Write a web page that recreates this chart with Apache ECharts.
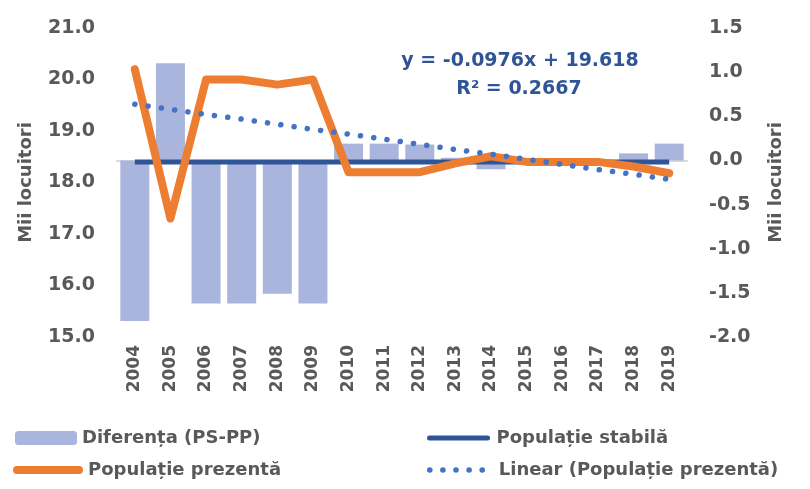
<!DOCTYPE html>
<html>
<head>
<meta charset="utf-8">
<script src="https://cdn.jsdelivr.net/npm/echarts@6/dist/echarts.min.js"></script>
<style>
    html, body { margin: 0; padding: 0; background: #fff; }
    #population_chart { width: 810px; height: 489px; }
</style>
</head>
<body>
<div id="population_chart"></div>
<script>

// Chart data
// ------------------------------

var years = ['2004', '2005', '2006', '2007', '2008', '2009', '2010', '2011',
             '2012', '2013', '2014', '2015', '2016', '2017', '2018', '2019'];

// Diferența (PS-PP), right axis
var diferenta = [-1.82, 1.10, -1.62, -1.62, -1.51, -1.62, 0.19, 0.19,
                 0.18, 0.03, -0.10, 0.00, 0.00, 0.00, 0.08, 0.19];

// Populație stabilă, left axis
var populatieStabila = [18.4, 18.4, 18.4, 18.4, 18.4, 18.4, 18.4, 18.4,
                        18.4, 18.4, 18.4, 18.4, 18.4, 18.4, 18.4, 18.4];

// Populație prezentă, left axis
var populatiePrezenta = [20.2, 17.3, 20.0, 20.0, 19.9, 20.0, 18.2, 18.2,
                         18.2, 18.37, 18.51, 18.4, 18.4, 18.4, 18.31, 18.18];

// Linear (Populație prezentă)
var linearPrezenta = [19.52, 19.42, 19.32, 19.23, 19.13, 19.03, 18.94, 18.84,
                      18.74, 18.64, 18.55, 18.45, 18.35, 18.25, 18.16, 18.06];

// Axis ticks [min, max, interval]
var leftTicks = [15, 21, 1];
var rightTicks = [-2, 1.5, 0.5];

var trendLabel = ['y = -0.0976x + 19.618', 'R² = 0.2667'];


// Setup module
// ------------------------------

var PopulationChart = function() {

    var _populationChart = function() {
        if (typeof echarts == 'undefined') {
            console.warn('Warning - echarts.min.js is not loaded.');
            return;
        }

        var chart_element = document.getElementById('population_chart');
        if (!chart_element) return;

        var chart = echarts.init(chart_element);

        var font = 'DejaVu Sans';
        var grey = '#595959';

        var labelStyle = {
            color: grey,
            fontFamily: font,
            fontWeight: 'bold',
            fontSize: 18
        };

        // Legend text with a small gap after line icons
        var lineLegendText = {
            color: grey,
            fontFamily: font,
            fontWeight: 'bold',
            fontSize: 18,
            padding: [0, 0, 0, 4]
        };

        // Legend builder: one legend per item, placed by hand
        var legendItem = function(name, left, top, w, h, extra) {
            var item = {
                data: [name],
                left: left,
                top: top,
                padding: 0,
                itemWidth: w,
                itemHeight: h,
                selectedMode: false,
                textStyle: labelStyle
            };
            for (var k in extra) item[k] = extra[k];
            return item;
        };

        var axisLabel = {
            margin: 22,
            color: grey,
            fontFamily: font,
            fontWeight: 'bold',
            fontSize: 19,
            formatter: function(v) { return v.toFixed(1); }
        };

        chart.setOption({

            animation: false,

            textStyle: {
                fontFamily: font
            },

            grid: {
                left: 117,
                right: 123,
                top: 28,
                bottom: 152,
                containLabel: false
            },

            legend: [
                legendItem('Diferența (PS-PP)', 15, 429, 62, 14, {}),
                legendItem('Populație prezentă', 13, 461, 62, 14, {
                    textStyle: lineLegendText,
                    itemStyle: { opacity: 0 },
                    lineStyle: { width: 8, color: '#ED7D31', cap: 'round' }
                }),
                legendItem('Populație stabilă', 427, 429, 58, 14, {
                    textStyle: lineLegendText,
                    itemStyle: { opacity: 0 },
                    lineStyle: { width: 5, color: '#2F5597', cap: 'round' }
                }),
                legendItem('Linear (Populație prezentă)', 427, 461, 60, 14, {
                    textStyle: lineLegendText,
                    itemStyle: { opacity: 0 },
                    lineStyle: { width: 5.5, color: '#4472C4', type: [0.1, 13], cap: 'round' }
                })
            ],

            graphic: [
                {
                    type: 'text',
                    x: 520,
                    y: 61,
                    style: {
                        text: trendLabel[0],
                        align: 'center',
                        verticalAlign: 'middle',
                        fill: '#2F5597',
                        font: 'bold 19px "DejaVu Sans"'
                    }
                },
                {
                    type: 'text',
                    x: 519,
                    y: 89,
                    style: {
                        text: trendLabel[1],
                        align: 'center',
                        verticalAlign: 'middle',
                        fill: '#2F5597',
                        font: 'bold 19px "DejaVu Sans"'
                    }
                }
            ],

            xAxis: [{
                type: 'category',
                data: years,
                axisTick: { show: false },
                axisLine: {
                    lineStyle: { color: '#D9D9D9', width: 2 }
                },
                axisLabel: {
                    rotate: 90,
                    margin: 8,
                    color: grey,
                    fontFamily: font,
                    fontWeight: 'bold',
                    fontSize: 17
                }
            }],

            yAxis: [
                {
                    type: 'value',
                    min: leftTicks[0],
                    max: leftTicks[1],
                    interval: leftTicks[2],
                    name: 'Mii locuitori',
                    nameLocation: 'middle',
                    nameGap: 82,
                    nameRotate: 90,
                    nameTextStyle: labelStyle,
                    axisLine: { show: false },
                    axisTick: { show: false },
                    splitLine: { show: false },
                    axisLabel: axisLabel
                },
                {
                    type: 'value',
                    min: rightTicks[0],
                    max: rightTicks[1],
                    interval: rightTicks[2],
                    name: 'Mii locuitori',
                    nameLocation: 'middle',
                    nameGap: 80,
                    nameRotate: 90,
                    nameTextStyle: labelStyle,
                    axisLine: { show: false },
                    axisTick: { show: false },
                    splitLine: { show: false },
                    axisLabel: axisLabel
                }
            ],

            series: [
                {
                    name: 'Diferența (PS-PP)',
                    type: 'bar',
                    yAxisIndex: 1,
                    barWidth: 29,
                    itemStyle: { color: '#A9B5DC' },
                    data: diferenta
                },
                {
                    name: 'Populație stabilă',
                    type: 'line',
                    yAxisIndex: 0,
                    symbol: 'none',
                    lineStyle: { width: 5, color: '#2F5597' },
                    itemStyle: { color: '#2F5597' },
                    data: populatieStabila
                },
                {
                    name: 'Populație prezentă',
                    type: 'line',
                    yAxisIndex: 0,
                    symbol: 'none',
                    lineStyle: { width: 8, color: '#ED7D31', join: 'round', cap: 'round' },
                    itemStyle: { color: '#ED7D31' },
                    data: populatiePrezenta
                },
                {
                    name: 'Linear (Populație prezentă)',
                    type: 'line',
                    yAxisIndex: 0,
                    symbol: 'none',
                    lineStyle: { width: 5.5, color: '#4472C4', type: [0.1, 13.3], cap: 'round' },
                    itemStyle: { color: '#4472C4' },
                    data: linearPrezenta
                }
            ]
        });
    };

    return {
        init: function() {
            _populationChart();
        }
    }
}();


// Initialize module
// ------------------------------

document.addEventListener('DOMContentLoaded', function() {
    PopulationChart.init();
});
</script>
</body>
</html>
